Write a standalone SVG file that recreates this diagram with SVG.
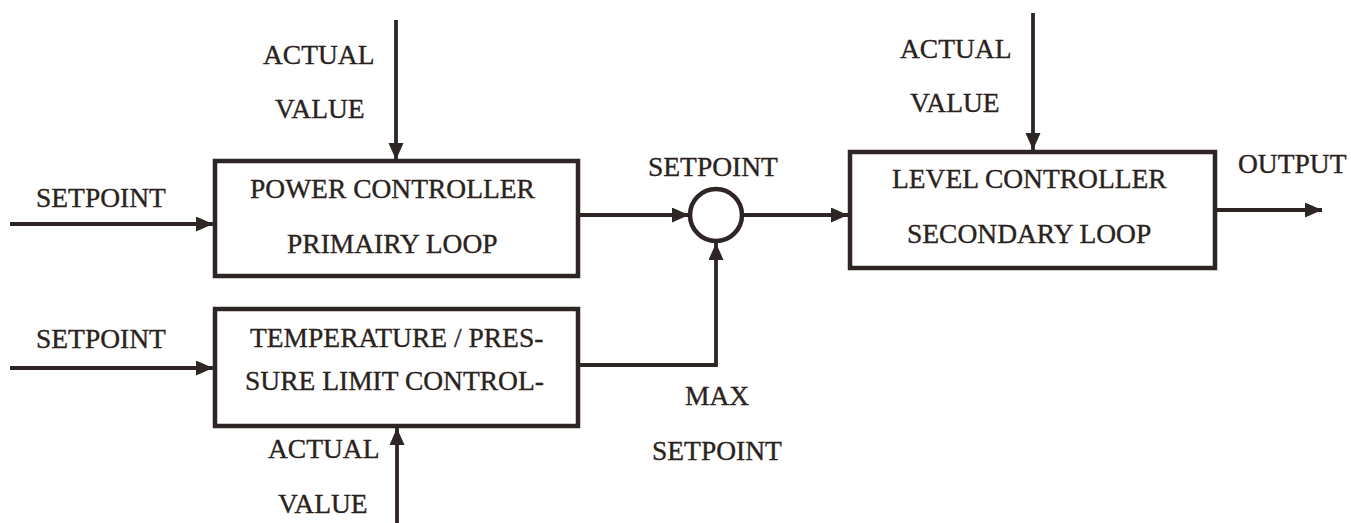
<svg xmlns="http://www.w3.org/2000/svg" width="1351" height="523" viewBox="0 0 1351 523">
<style>
.box{fill:none;stroke:#2d2624;stroke-width:4.5}
.ln{fill:none;stroke:#2d2624;stroke-width:3.8}
.t{font-family:"Liberation Serif","Times New Roman",serif;font-size:27.5px;fill:#2a221c;stroke:#2a221c;stroke-width:0.35}
</style>
<defs>
<marker id="ah" markerUnits="userSpaceOnUse" markerWidth="18" markerHeight="16" refX="17" refY="7.5" orient="auto">
<path d="M0,0 L17,7.5 L0,15 z" fill="#2d2624"/>
</marker>
</defs>
<rect width="1351" height="523" fill="#ffffff"/>
<g id="connectors">
<line class="ln" x1="396" y1="20" x2="396" y2="160" marker-end="url(#ah)"/>
<line class="ln" x1="10" y1="224" x2="213" y2="224" marker-end="url(#ah)"/>
<line class="ln" x1="580" y1="215" x2="689" y2="215" marker-end="url(#ah)"/>
<line class="ln" x1="743" y1="215" x2="848" y2="215" marker-end="url(#ah)"/>
<line class="ln" x1="10" y1="368" x2="213" y2="368" marker-end="url(#ah)"/>
<polyline class="ln" points="580,365 716,365 716,243" marker-end="url(#ah)"/>
<line class="ln" x1="397" y1="523" x2="397" y2="428" marker-end="url(#ah)"/>
<line class="ln" x1="1033" y1="13" x2="1033" y2="150" marker-end="url(#ah)"/>
<line class="ln" x1="1217" y1="210" x2="1322" y2="210" marker-end="url(#ah)"/>
</g>
<g id="power-controller">
<rect class="box" x="215" y="161" width="363" height="115"/>
<text class="t" x="250" y="198">POWER CONTROLLER</text>
<text class="t" x="287" y="253">PRIMAIRY LOOP</text>
</g>
<g id="temp-limit-controller">
<rect class="box" x="215" y="309" width="363" height="117"/>
<text class="t" x="250" y="347">TEMPERATURE / PRES-</text>
<text class="t" x="245" y="390">SURE LIMIT CONTROL-</text>
</g>
<g id="summing-junction">
<circle class="box" cx="716" cy="215" r="26"/>
</g>
<g id="level-controller">
<rect class="box" x="850" y="152" width="365" height="116"/>
<text class="t" x="892" y="188">LEVEL CONTROLLER</text>
<text class="t" x="907" y="243">SECONDARY LOOP</text>
</g>
<g id="labels">
<text class="t" x="263" y="64">ACTUAL</text>
<text class="t" x="275" y="118">VALUE</text>
<text class="t" x="36" y="207">SETPOINT</text>
<text class="t" x="648" y="176">SETPOINT</text>
<text class="t" x="900" y="58">ACTUAL</text>
<text class="t" x="910" y="112">VALUE</text>
<text class="t" x="1238" y="173">OUTPUT</text>
<text class="t" x="36" y="348">SETPOINT</text>
<text class="t" x="685" y="405">MAX</text>
<text class="t" x="652" y="460">SETPOINT</text>
<text class="t" x="268" y="458">ACTUAL</text>
<text class="t" x="278" y="513">VALUE</text>
</g>
</svg>
